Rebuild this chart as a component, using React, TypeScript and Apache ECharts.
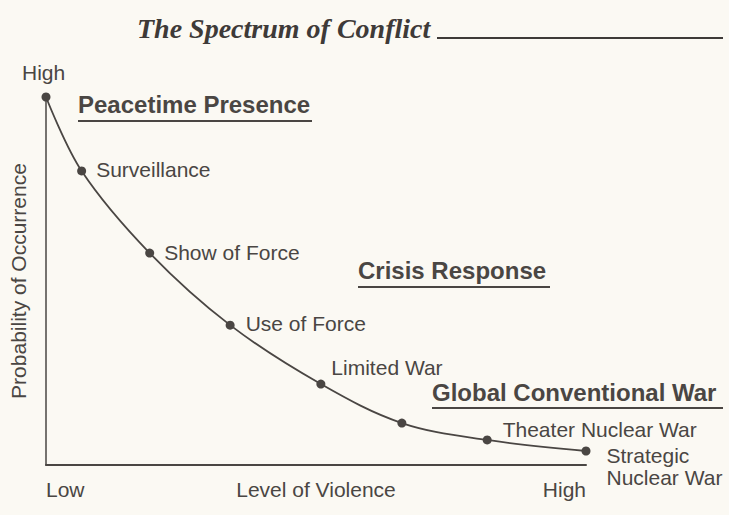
import React, { useEffect, useRef } from "react";
import * as echarts from "echarts";

const levelOfViolence = [0, 6.6, 19.2, 34.1, 50.9, 65.9, 81.7, 100];
const probability = [100, 79.9, 57.6, 38.0, 22.0, 11.4, 6.8, 3.8];
const pointNames = ["", "Surveillance", "Show of Force", "Use of Force", "Limited War", "", "Theater Nuclear War", "Strategic\nNuclear War"];
const xTickLabels: Record<number, string> = { 0: "Low", 50: "Level of Violence", 100: "High" };
const yAxisName = "Probability of Occurrence";
const yTopLabel = "High";
const title = "The Spectrum of Conflict";
const bands = ["Peacetime Presence", "Crisis Response", "Global Conventional War"];

const INK = "#4a4643";
const BG = "#fbf9f3";
const FONT = "'Liberation Sans', Arial, sans-serif";

const labelStyles: any[] = [
  { show: false },
  { position: "right", offset: [5, -1] },
  { position: "right", offset: [5, -1] },
  { position: "right", offset: [6, -2] },
  { position: "right", offset: [1, -17] },
  { show: false },
  { position: "right", offset: [6, -10] },
  { position: "right", offset: [11, 15], lineHeight: 22 },
];

export default function App() {
  const ref = useRef<HTMLDivElement>(null);
  useEffect(() => {
    if (!ref.current) return;
    const chart = echarts.init(ref.current, undefined, { renderer: "svg" });
    const data = levelOfViolence.map((x, i) => ({
      value: [x, probability[i]],
      name: pointNames[i],
      label: { show: pointNames[i] !== "", ...labelStyles[i] },
    }));
    const bandPos = [
      { x: 78, y: 92, w: 234, uy: 121 },
      { x: 358, y: 258, w: 192, uy: 287 },
      { x: 432, y: 380, w: 291, uy: 408 },
    ];
    chart.setOption({
      animation: false,
      backgroundColor: BG,
      grid: { left: 44, top: 97, width: 542, height: 368 },
      xAxis: {
        type: "value",
        min: 0,
        max: 100,
        interval: 50,
        axisLine: { show: true, lineStyle: { color: INK, width: 2 } },
        axisTick: { show: false },
        splitLine: { show: false },
        axisLabel: {
          formatter: (v: number) => xTickLabels[v] ?? "",
          color: INK,
          fontFamily: FONT,
          fontSize: 21,
          margin: 14,
          alignMinLabel: "left",
          alignMaxLabel: "right",
        },
      },
      yAxis: {
        type: "value",
        min: 0,
        max: 100,
        axisLine: { show: true, lineStyle: { color: INK, width: 1.5 } },
        axisTick: { show: false },
        splitLine: { show: false },
        axisLabel: { show: false },
        name: yAxisName,
        nameLocation: "middle",
        nameGap: 17,
        nameTextStyle: { color: INK, fontFamily: FONT, fontSize: 21 },
      },
      series: [
        {
          type: "line",
          data,
          smooth: 0.35,
          symbol: "circle",
          symbolSize: 9,
          itemStyle: { color: INK },
          lineStyle: { color: INK, width: 1.8 },
          label: { color: INK, fontFamily: FONT, fontSize: 21, formatter: "{b}" },
        },
      ],
      graphic: [
        {
          type: "text",
          left: 137,
          top: 14,
          style: {
            text: title,
            font: "italic bold 28px 'Liberation Serif', 'Times New Roman', serif",
            fill: "#3e3a38",
          },
        },
        { type: "line", shape: { x1: 437, y1: 38, x2: 723, y2: 38 }, style: { stroke: "#3e3a38", lineWidth: 2 } },
        {
          type: "text",
          left: 22,
          top: 62,
          style: { text: yTopLabel, font: `21px ${FONT}`, fill: INK },
        },
        ...bands.flatMap((b, i) => [
          {
            type: "text",
            left: bandPos[i].x,
            top: bandPos[i].y,
            style: { text: b, font: `bold 24px ${FONT}`, fill: INK },
          },
          {
            type: "line",
            shape: { x1: bandPos[i].x, y1: bandPos[i].uy, x2: bandPos[i].x + bandPos[i].w, y2: bandPos[i].uy },
            style: { stroke: INK, lineWidth: 2 },
          },
        ]),
      ],
    });
    return () => chart.dispose();
  }, []);
  return <div ref={ref} style={{ position: "fixed", left: 0, top: 0, width: 729, height: 515 }} />;
}
